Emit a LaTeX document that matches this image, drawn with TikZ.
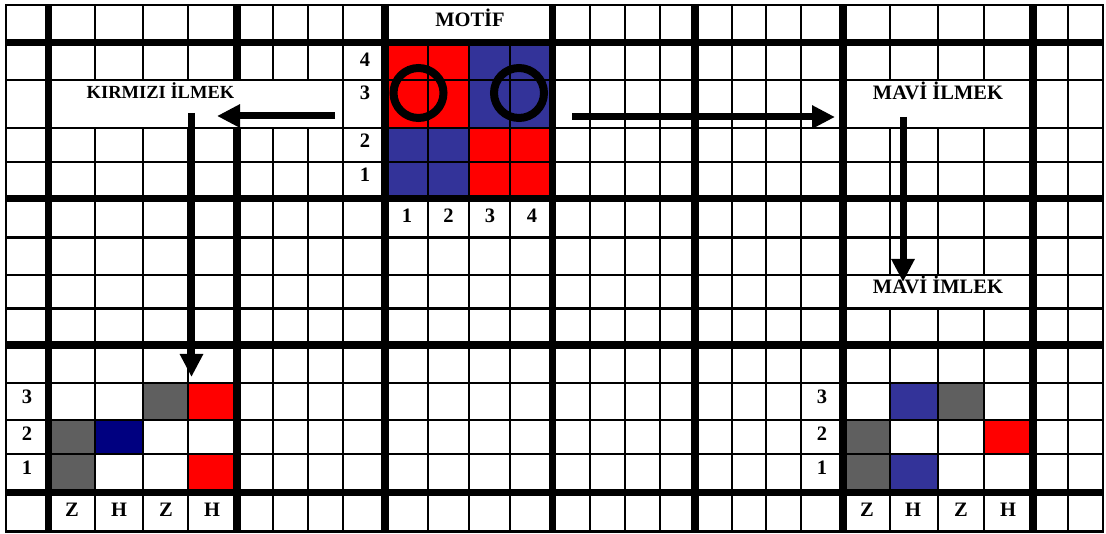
\documentclass[tikz,border=0pt]{standalone}
\usepackage{fontspec}
\setmainfont{Liberation Serif}
\usepackage{xcolor}
\usepackage{tikz}
\usetikzlibrary{arrows.meta}

\definecolor{motifred}{HTML}{FF0000}
\definecolor{motifblue}{HTML}{333399}
\definecolor{motifnavy}{HTML}{000080}
\definecolor{motifgray}{HTML}{5F5F5F}

\begin{document}
\begin{tikzpicture}[x=1pt, y=-1pt,
    gridthin/.style={line width=2.2pt},
    gridthick/.style={line width=7.5pt},
    lbl/.style={font=\bfseries\fontsize{20.5}{24}\selectfont, inner sep=0pt, anchor=base},
    ring/.style={circle, draw, line width=8pt, minimum size=50pt, inner sep=0pt},
    bigarrow/.style={line width=7pt, -{Triangle[length=23pt, width=22pt]}}]
    \useasboundingbox (0,0) rectangle (1106,534);
    \fill[white] (0,0) rectangle (1106,534);

    % motif cells
    \fill[motifred]  (385,42.5) rectangle (469,128);
    \fill[motifblue] (469,42.5) rectangle (552.5,128);
    \fill[motifblue] (385,128) rectangle (469,198.5);
    \fill[motifred]  (469,128) rectangle (552.5,198.5);

    % red loop (left, bottom)
    \fill[motifgray] (143,383) rectangle (188,420);
    \fill[motifred]  (188,383) rectangle (237,420);
    \fill[motifgray] (48.5,420) rectangle (95,454);
    \fill[motifnavy] (95,420) rectangle (143,454);
    \fill[motifgray] (48.5,454) rectangle (95,492.5);
    \fill[motifred]  (188,454) rectangle (237,492.5);

    % blue loop (right, bottom)
    \fill[motifblue] (890,383) rectangle (938,420);
    \fill[motifgray] (938,383) rectangle (984,420);
    \fill[motifgray] (843,420) rectangle (890,454);
    \fill[motifred]  (984,420) rectangle (1033,454);
    \fill[motifgray] (843,454) rectangle (890,492.5);
    \fill[motifblue] (890,454) rectangle (938,492.5);

    % thin grid lines
    \foreach \x in {343,590,625,660,732,766,801,1068}
        \draw[gridthin] (\x,5) -- (\x,531.5);
    \foreach \x in {95,143,188,273,308}
        \draw[gridthin] (\x,5) -- (\x,80) (\x,128) -- (\x,531.5);
    \foreach \x in {428,469,510}
        \draw[gridthin] (\x,42.5) -- (\x,531.5);
    \foreach \x in {890,938,984}
        \draw[gridthin] (\x,5) -- (\x,80) (\x,128) -- (\x,275) (\x,308.5) -- (\x,531.5);
    \foreach \y in {80,128,162,237.5,275,308.5,383,420,454}
        \draw[gridthin] (6,\y) -- (1103,\y);

    % thick grid lines
    \foreach \x in {48.5,385,552.5,695,843,1033}
        \draw[gridthick] (\x,5) -- (\x,531.5);
    \draw[gridthick] (237,5) -- (237,80) (237,128) -- (237,531.5);
    \foreach \y in {42.5,198.5,345,492.5}
        \draw[gridthick] (6,\y) -- (1103,\y);
    \draw[line width=2.3pt] (6,5) rectangle (1103,531.5);

    \node[ring] (redring) at (418.5,93) {};
    \node[ring] (bluering) at (519,93) {};

    % labels
    \node[lbl] (motif) at (470,26.5) {MOTİF};
    \node[lbl, font=\bfseries\fontsize{18.5}{22}\selectfont] (kirmizi) at (160.5,98.7) {KIRMIZI İLMEK};
    \node[lbl] (maviust) at (938,100) {MAVİ İLMEK};
    \node[lbl] (mavialt) at (938,294) {MAVİ İMLEK};
    \foreach \n/\yb in {4/66.7,3/100,2/148,1/182}
        \node[lbl] (row\n) at (365,\yb) {\n};
    \foreach \n/\xc in {1/407,2/448.5,3/490,4/532}
        \node[lbl] (col\n) at (\xc,223) {\n};
    \foreach \n/\yb in {3/404,2/440,1/475} {
        \node[lbl] (solrow\n) at (27,\yb) {\n};
        \node[lbl] (sagrow\n) at (822,\yb) {\n};
    }
    \foreach \t/\xl/\xr [count=\i] in {Z/72/867,H/119/913,Z/166/961,H/212/1008} {
        \node[lbl] (solzh\i) at (\xl,516) {\t};
        \node[lbl] (sagzh\i) at (\xr,516) {\t};
    }

    % arrows
    \coordinate (kstart) at (335,116);
    \coordinate (kend) at (217,116);
    \coordinate (kdown) at (191.5,113);
    \coordinate (kdownend) at (191.5,377);
    \coordinate (mstart) at (572,117);
    \coordinate (mend) at (835,117);
    \coordinate (mdown) at (903,117);
    \coordinate (mdownend) at (903,282);
    \draw[bigarrow] (kstart) -- (kend);
    \draw[bigarrow] (kdown) -- (kdownend);
    \draw[bigarrow] (mstart) -- (mend);
    \draw[bigarrow] (mdown) -- (mdownend);
\end{tikzpicture}
\end{document}
